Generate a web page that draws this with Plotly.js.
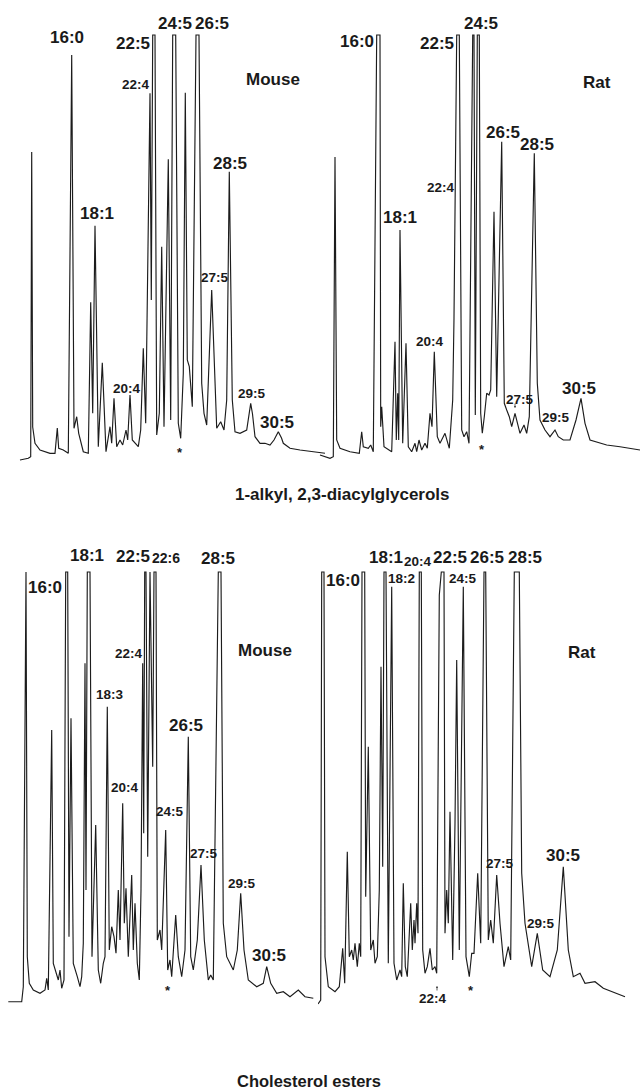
<!DOCTYPE html>
<html>
<head>
<meta charset="utf-8">
<script src="https://cdn.plot.ly/plotly-3.0.1.min.js"></script>
<style>html,body{margin:0;padding:0;background:#fff;}#chart{width:641px;height:1091px;}</style>
</head>
<body>
<div id="chart"></div>
<script>
// ---- Data: chromatogram vertices (retention, detector response) ----
// Panel A: 1-alkyl, 2,3-diacylglycerols — Mouse
const alkylMouseTime = [2,10.3,12.7,13.7,14.7,17,22,32,37,39.3,40.7,45.3,50.3,53.7,56,58.7,60.7,65.3,70.3,72.7,74.7,77,80.3,84.3,88,92,93.7,96,98.7,102,104.7,108,109.7,112,114.3,117,120.3,122.7,125.3,127.7,132,133.3,134.7,137,138.7,141.3,143.7,146,150.3,152.7,154.7,157.7,160.3,162.7,165.3,167.3,169.3,171.3,174.3,178,181,183.7,186,188.7,193.7,198.7,202.7,206,208.7,211.3,214.3,217,222,228.7,231,232.7,234.5,237,242,247,252,256,260.3,263.5,265.3,272,282,295.3,307];
const alkylMouseSignal = [2,3.7,5.3,310,35,18.7,12,8.7,8.7,34,13.7,12,8.7,407,33.7,45.3,28.7,10.3,8.7,159.7,48.7,236.3,15.3,99.3,10.3,35.3,18.7,63.7,15.3,22,17,32,22,67,22,18.7,15.3,32,113.7,38.7,368.7,162,427,427,27,48.7,215.3,35.3,302.7,42,427,427,38.7,23.7,88.7,369.3,102,95.3,55.3,427,427,78.7,48.7,37,172,33.7,40.3,32,62,290.3,62,30.3,28.7,32,45,58.7,48,25.3,18.7,18.7,17,22,30.3,24,18.7,13.7,12,10.3,8.7];

// Panel B: 1-alkyl, 2,3-diacylglycerols — Rat
const alkylRatTime = [2,12,15.3,17,18.7,22,32,41.3,43.7,45.3,50.3,52.7,55.3,58.7,62,62.7,63.7,66,73.7,77,78.3,79.7,80.7,82,84.7,88,90.3,93.7,97,98.7,101,103.7,107,109.3,112,114,116.3,119.3,122,127,131.3,134.7,136,137,138.7,141.3,143.7,146,148.7,151,154.7,156,157.3,159.3,161.3,162.7,164.3,166.3,168.7,171,172.7,176,178.7,183.7,186.3,188.7,191.3,193.7,197,202,206,208.7,211.3,216.3,219.3,222,227,232,237,240.3,245.3,252,258,263,267,272,278.7,288.7,302,322];
const alkylRatSignal = [7,3.7,5.3,305,22,13.7,10.3,8.7,30.3,15.3,13.7,17,10.3,427,427,35.3,55.3,15.3,10.3,120.3,22,68.7,22,232,18.7,118.7,15.3,10.3,18.7,10.3,22,12,18.7,13.7,48.7,35.3,110.3,25.3,18.7,28.7,13.7,62,143.7,262,427,427,32,25.3,30.3,18.7,427,427,47,427,427,48.7,28.7,45.3,68.7,67,72,250.3,65.3,320.3,58.7,52,45.3,35.3,48.7,28.7,37,28.7,45.3,308.7,78.7,42,32,25.3,32,25.3,22,22,42,63.7,38.7,22,20.3,17,15.3,12];

// Panel C: Cholesterol esters — Mouse
const cholMouseTime = [3.3,16.7,18.3,21,22.3,24.3,28.3,35,40,41.7,43.3,46.7,48.3,51.7,53.3,55,56.7,59,60.7,62.7,64,66,68.3,72.3,75,76.7,78.3,80,81,82.3,85,87,90.7,93.3,95.7,98.3,100,102.3,104.3,106.7,109,111,113.3,115,117.7,119.3,121,123.3,126.7,128.3,130,132.3,134.3,136,137.7,138.7,139.7,141,142.7,145,147.7,149,151,152.3,155,156.7,160.7,162.7,165,166.7,170.7,173.3,176.7,180,183.3,185.7,188.3,192.3,196,199.3,203.3,205.7,208.3,213.3,216,218.3,221.7,228.3,232.3,235.7,239,243.3,251.7,258.3,261.7,265.7,271.7,278.3,285,293.3,300,308.3];
const cholMouseSignal = [6.3,6.3,21.3,436,51.3,24.7,18,14.7,18,29.7,18,278,44.7,34.7,28,38,19.7,28,436,436,71.3,289.7,44.7,31.3,21.3,31.3,64.7,344.7,118,436,436,51.3,183,38,24.7,44.7,51.3,301.3,58,81.3,71.3,54.7,118,68,204.7,84.7,119.7,51.3,133,58,104.7,44.7,28,118,344.7,174.7,436,436,151.3,436,241.3,436,436,68,78,58,178,38,48,31.3,93,51.3,31.3,58,271.3,51.3,38,68,143,68,28,33,28,436,436,84.7,51.3,38,58,114.7,58,28,21.3,24.7,41.3,24.7,14.7,16.3,11.3,18,11.3,9.7];

// Panel D: Cholesterol esters — Rat
const cholRatTime = [0,2.7,3.7,6,7,10.3,17,21.3,24.7,26.7,29.3,31.3,33.7,35.3,37,39.3,41.3,42.7,44,46.7,47.7,50.3,52.7,55.3,57,59.3,61.3,63,64.7,66,68,70.3,73.7,76,78.7,82,83.7,85.3,87.3,89.3,92.7,94.3,96,97,98.7,100,101.3,103.3,104.7,107,109.3,112,114.3,117,118.7,120,121.3,123.3,126,127,128.7,130.3,132,134.7,137,138.7,141.3,145.3,148,151.3,153.7,156,159.7,162.7,166,167.7,170.3,172.7,175.3,178.7,182,186,190.3,192.7,196.3,201.3,203.7,207,213.7,219.3,224.7,232,239.3,245.3,250.3,255.3,262,267,277,285.3,307];
const cholRatSignal = [4,8,436,436,51.3,21.3,16.3,21.3,59.7,24.7,156.3,51.3,58,48,64.7,41.3,64.7,51.3,436,436,111.3,261.3,58,68,44.7,51.3,118,341.3,141.3,436,436,44.7,421.3,44.7,28,38,31.3,124.7,41.3,31.3,104.7,58,88,64.7,104.7,74.7,436,436,58,34.7,41.3,59.7,38,41.3,34.7,268,413,436,436,74.7,118,84.7,196.3,48,184.7,348,58,421.3,51.3,31.3,54.7,54.7,134.7,64.7,436,436,68,88,64.7,133,84.7,41.3,61.3,48,436,436,134.7,84.7,41.3,74.7,38,31.3,58,141.3,58,31.3,34.7,24.7,26.3,19.7,11.3];

// Peak labels (text only)
const alkylMouseLabels = ['16:0','18:1','22:5','22:4','24:5','26:5','Mouse','28:5','27:5','20:4','29:5','30:5','*'];
const alkylRatLabels = ['16:0','22:5','24:5','Rat','26:5','28:5','22:4','18:1','20:4','27:5','29:5','30:5','*'];
const cholMouseLabels = ['16:0','18:1','22:5','22:6','28:5','22:4','Mouse','18:3','26:5','20:4','24:5','27:5','29:5','30:5','*'];
const cholRatLabels = ['16:0','18:1','18:2','20:4','22:5','24:5','26:5','28:5','Rat','27:5','29:5','30:5','22:4','*'];
const sectionTitles = ['1-alkyl, 2,3-diacylglycerols','Cholesterol esters'];

// ---- Layout helpers ----
const W = 641, H = 1091;
const FN = '"Liberation Sans", Arial, sans-serif';
const px = v => v / W;
const py = v => 1 - v / H;

const lineStyle = {color: '#1c1c1c', width: 1.15};
const traces = [
  {x: alkylMouseTime, y: alkylMouseSignal, xaxis: 'x', yaxis: 'y'},
  {x: alkylRatTime, y: alkylRatSignal, xaxis: 'x2', yaxis: 'y2'},
  {x: cholMouseTime, y: cholMouseSignal, xaxis: 'x3', yaxis: 'y3'},
  {x: cholRatTime, y: cholRatSignal, xaxis: 'x4', yaxis: 'y4'}
].map(t => Object.assign(t, {type: 'scatter', mode: 'lines', line: lineStyle, hoverinfo: 'skip'}));

function ax(domain, range) {
  return {domain: domain, range: range, visible: false, fixedrange: true, showgrid: false, zeroline: false};
}

// label styles: [x px, y px, size]
const L = 17, S = 13.5, M = 17;
const posA = [[67,37,L],[97,213,L],[133,43,L],[136,84,S],[175,23,L],[212,23,L],[273,79,M],[230,163,L],[215,277,S],[127,388,S],[252,393,S],[277,422,L],[180,452,13]];
const posB = [[357,42,L],[437,43,L],[481,23,L],[597,82,M],[503,132,L],[537,144,L],[441,188,S],[400,218,L],[430,342,S],[520,400,S],[556,418,S],[579,388,L],[482,450,13]];
const posC = [[45,587,L],[87,555,L],[133,556,L],[166,558,14],[218,558,L],[129,653,S],[265,650,M],[110,694,S],[186,725,L],[125,787,S],[170,811,S],[204,853,S],[242,883,S],[269,955,L],[168,990,13]];
const posD = [[343,580,L],[386,557,L],[402,578,S],[418,561,S],[450,557,L],[463,578,S],[487,557,L],[525,557,L],[582,652,M],[500,863,S],[541,923,S],[563,855,L],[433,998,S],[471,990,13]];

const annotations = [];
function addLabels(labels, pos) {
  labels.forEach((t, i) => {
    const p = pos[i];
    annotations.push({text: t, xref: 'paper', yref: 'paper', x: px(p[0]), y: py(p[1]),
      xanchor: 'center', yanchor: 'middle', showarrow: false,
      font: {family: FN, size: p[2], color: '#1a1a1a', weight: 'bold'}});
  });
}
addLabels(alkylMouseLabels, posA);
addLabels(alkylRatLabels, posB);
addLabels(cholMouseLabels, posC);
addLabels(cholRatLabels, posD);
annotations.push({text: sectionTitles[0], xref: 'paper', yref: 'paper', x: px(342), y: py(495),
  xanchor: 'center', yanchor: 'middle', showarrow: false, font: {family: FN, size: 17, color: '#1a1a1a', weight: 'bold'}});
annotations.push({text: sectionTitles[1], xref: 'paper', yref: 'paper', x: px(309), y: py(1081),
  xanchor: 'center', yanchor: 'middle', showarrow: false, font: {family: FN, size: 16.5, color: '#1a1a1a', weight: 'bold'}});
// tiny pointer arrows
[[130,403,-6],[515,408,-6],[437,986,6]].forEach(a => {
  annotations.push({text: '', xref: 'paper', yref: 'paper', x: px(a[0]), y: py(a[1]), ax: 0, ay: a[2],
    showarrow: true, arrowhead: 2, arrowsize: 0.5, arrowwidth: 0.8, arrowcolor: '#333'});
});

const layout = {
  width: W, height: H, margin: {l: 0, r: 0, t: 0, b: 0},
  paper_bgcolor: '#ffffff', plot_bgcolor: 'rgba(0,0,0,0)', showlegend: false,
  xaxis: ax([px(18), px(328)], [0, 310]),
  yaxis: ax([py(462), py(32)], [0, 430]),
  xaxis2: ax([px(318), 1], [0, 323]),
  yaxis2: ax([py(462), py(32)], [0, 430]),
  xaxis3: ax([px(5), px(320)], [0, 315]),
  yaxis3: ax([py(1008), py(569)], [0, 439]),
  xaxis4: ax([px(318), 1], [0, 323]),
  yaxis4: ax([py(1008), py(569)], [0, 439]),
  annotations: annotations
};

Plotly.newPlot('chart', traces, layout, {staticPlot: true, displayModeBar: false});
</script>
</body>
</html>
